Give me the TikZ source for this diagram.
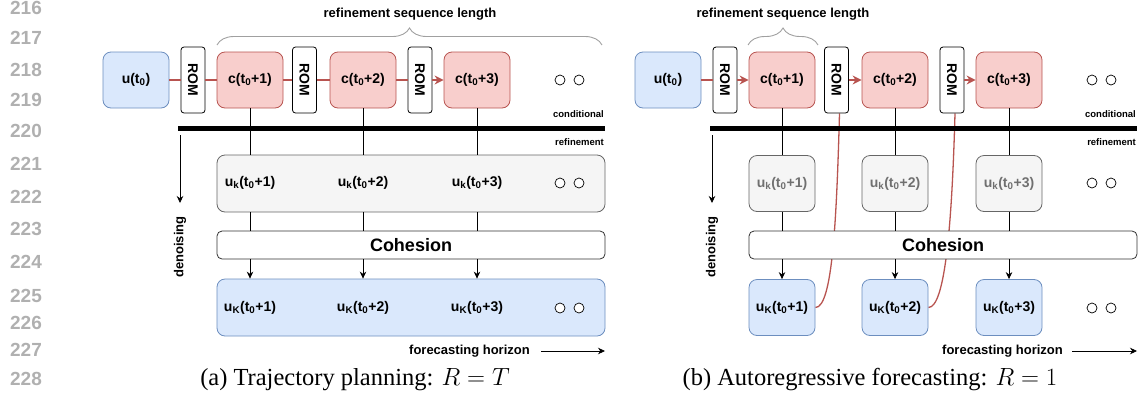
\documentclass[tikz,border=0pt]{standalone}
\usepackage{graphicx}
\usepackage{fontspec}
\setmainfont{Liberation Serif}
\newfontfamily\lsans{Liberation Sans}
\usetikzlibrary{arrows.meta,decorations.pathreplacing}
\definecolor{bF}{HTML}{DAE8FC}\definecolor{bD}{HTML}{6C8EBF}
\definecolor{rF}{HTML}{F8CECC}\definecolor{rD}{HTML}{B85450}
\definecolor{gF}{HTML}{F5F5F5}\definecolor{gD}{HTML}{666666}
\definecolor{gT}{HTML}{707070}
\definecolor{lnum}{HTML}{B0B0B0}
\definecolor{brc}{HTML}{A0A0A0}
\pgfdeclarelayer{bg}
\pgfsetlayers{bg,main}
\newcommand{\lbl}[2]{#1\textsubscript{#2}(t\textsubscript{0}}
\begin{document}
\begin{tikzpicture}[x=1pt,y=-1pt,
  every node/.style={font=\lsans\bfseries\fontsize{14}{16}\selectfont, inner sep=0pt},
  cell/.style={minimum width=66pt, minimum height=56pt, rounded corners=8pt, line width=0.8pt},
  bluecell/.style={cell, fill=bF, draw=bD},
  redcell/.style={cell, fill=rF, draw=rD},
  graycell/.style={cell, fill=gF, draw=gD},
  bigblue/.style={fill=bF, draw=bD, rounded corners=8pt, line width=0.8pt, minimum width=388pt, minimum height=57pt},
  biggray/.style={fill=gF, draw=gD, rounded corners=8pt, line width=0.8pt, minimum width=388pt, minimum height=57pt},
  cohbox/.style={fill=white, draw=black!80, rounded corners=5pt, line width=0.8pt, minimum width=388pt, minimum height=28pt, font=\lsans\bfseries\fontsize{18}{20}\selectfont},
  rombox/.style={draw=black, fill=white, rounded corners=3pt, minimum width=24pt, minimum height=66pt, line width=0.8pt},
  dot/.style={circle, draw=black, fill=white, minimum size=10pt, line width=0.7pt},
  redline/.style={draw=rD, line width=1.3pt},
  redarrow/.style={redline, -{Stealth[length=9pt,width=9pt]}},
  blkarrow/.style={draw=black, line width=0.8pt, -{Stealth[length=7pt,width=6.5pt]}},
  vline/.style={draw=black, line width=0.8pt},
  thick bar/.style={draw=black, line width=5pt},
  smalltxt/.style={font=\lsans\bfseries\fontsize{9.5}{11}\selectfont, anchor=east},
  midtxt/.style={font=\lsans\bfseries\fontsize{13}{15}\selectfont},
  lnumtxt/.style={font=\lsans\bfseries\fontsize{19}{21}\selectfont, text=lnum},
  captxt/.style={font=\rmfamily\fontsize{24.5}{28}\selectfont},
  bracestyle/.style={draw=brc, line width=0.9pt, decorate, decoration={brace, amplitude=17pt}},
  graytxt/.style={text=gT}
]
\useasboundingbox (0,0) rectangle (1139,410);

% line numbers
\foreach \n/\yy in {216/8,217/38,218/70,219/100,220/131,221/164,222/197,223/229,224/262,225/296,226/323,227/350,228/379}
  \node[lnumtxt] (ln\n) at (26,\yy) {\n};

%%%%%%%%%%%%%%%% Panel (a)
\node[midtxt] (aTitle) at (410,14) {refinement sequence length};
\coordinate (aBrL) at (217,45);
\coordinate (aBrR) at (602,45);
\draw[bracestyle] (aBrL) -- (aBrR);

\node[bluecell] (au) at (136,80) {u(t\textsubscript{0})};
\node[rombox] (ar1) at (193,80) {\rotatebox{-90}{ROM}};
\node[redcell] (ac1) at (250,80) {c(t\textsubscript{0}+1)};
\node[rombox] (ar2) at (304.5,80) {\rotatebox{-90}{ROM}};
\node[redcell] (ac2) at (363,80) {c(t\textsubscript{0}+2)};
\node[rombox] (ar3) at (420,80) {\rotatebox{-90}{ROM}};
\node[redcell] (ac3) at (477,80) {c(t\textsubscript{0}+3)};
\node[dot] (ad1) at (560,80) {};
\node[dot] (ad2) at (579,80) {};

\draw[redline] (au) -- (ar1);
\draw[redline] (ar1) -- (ac1);
\draw[redline] (ac1) -- (ar2);
\draw[redline] (ar2) -- (ac2);
\draw[redline] (ac2) -- (ar3);
\draw[redarrow] (ar3) -- (ac3);

\node[smalltxt] (acond) at (604,114) {conditional};
\coordinate (aBarL) at (178,128);
\coordinate (aBarR) at (605,128);
\draw[thick bar] (aBarL) -- (aBarR);
\node[smalltxt] (aref) at (604,142) {refinement};

\coordinate (aDenA) at (180,135);
\coordinate (aDenB) at (180,203);
\draw[blkarrow] (aDenA) -- (aDenB);
\node[midtxt, rotate=90] (aden) at (180,247) {denoising};

\node[biggray] (auk) at (411,183.5) {};
\node (aukl1) at (250,183) {\lbl{u}{k}+1)};
\node (aukl2) at (363,183) {\lbl{u}{k}+2)};
\node (aukl3) at (477,183) {\lbl{u}{k}+3)};
\node[dot] (ad3) at (560,183) {};
\node[dot] (ad4) at (579,183) {};

\node[cohbox] (acoh) at (411,245) {Cohesion};

\node[bigblue] (auK) at (411,307.5) {};
\node (auKl1) at (250,308) {\lbl{u}{K}+1)};
\node (auKl2) at (363,308) {\lbl{u}{K}+2)};
\node (auKl3) at (477,308) {\lbl{u}{K}+3)};
\node[dot] (ad5) at (560,308) {};
\node[dot] (ad6) at (579,308) {};

\foreach \c in {ac1,ac2,ac3}{
  \draw[vline] (\c.south) -- (\c.south |- auk.north);
  \draw[vline] (\c.south |- auk.south) -- (\c.south |- acoh.north);
  \draw[blkarrow] (\c.south |- acoh.south) -- (\c.south |- auK.north);
}

\node[midtxt, anchor=east] (afh) at (530,351) {forecasting horizon};
\coordinate (aFhA) at (541,351);
\coordinate (aFhB) at (605,351);
\draw[blkarrow] (aFhA) -- (aFhB);

\node[captxt] (acap) at (355,380) {(a) Trajectory planning: $R = T$};

%%%%%%%%%%%%%%%% Panel (b)
\node[midtxt] (bTitle) at (783,14) {refinement sequence length};
\coordinate (bBrL) at (748,45);
\coordinate (bBrR) at (818,45);
\draw[bracestyle] (bBrL) -- (bBrR);

\node[bluecell] (bu) at (668,80) {u(t\textsubscript{0})};
\node[rombox] (br1) at (725,80) {\rotatebox{-90}{ROM}};
\node[redcell] (bc1) at (782,80) {c(t\textsubscript{0}+1)};
\node[rombox] (br2) at (836.5,80) {\rotatebox{-90}{ROM}};
\node[redcell] (bc2) at (895,80) {c(t\textsubscript{0}+2)};
\node[rombox] (br3) at (952,80) {\rotatebox{-90}{ROM}};
\node[redcell] (bc3) at (1009,80) {c(t\textsubscript{0}+3)};
\node[dot] (bd1) at (1092,80) {};
\node[dot] (bd2) at (1111,80) {};

\draw[redline] (bu) -- (br1);
\draw[redarrow] (br1) -- (bc1);
\draw[redarrow] (br2) -- (bc2);
\draw[redarrow] (br3) -- (bc3);

\node[smalltxt] (bcond) at (1136,114) {conditional};
\coordinate (bBarL) at (710,128);
\coordinate (bBarR) at (1137,128);
\draw[thick bar] (bBarL) -- (bBarR);
\node[smalltxt] (bref) at (1136,142) {refinement};

\coordinate (bDenA) at (712,135);
\coordinate (bDenB) at (712,203);
\draw[blkarrow] (bDenA) -- (bDenB);
\node[midtxt, rotate=90] (bden) at (712,247) {denoising};

\node[graycell, graytxt] (bk1) at (782,183.5) {\lbl{u}{k}+1)};
\node[graycell, graytxt] (bk2) at (895,183.5) {\lbl{u}{k}+2)};
\node[graycell, graytxt] (bk3) at (1009,183.5) {\lbl{u}{k}+3)};
\node[dot] (bd3) at (1092,183) {};
\node[dot] (bd4) at (1111,183) {};

\node[cohbox] (bcoh) at (943,245) {Cohesion};

\node[bluecell] (bK1) at (782,307.5) {\lbl{u}{K}+1)};
\node[bluecell] (bK2) at (895,307.5) {\lbl{u}{K}+2)};
\node[bluecell] (bK3) at (1009,307.5) {\lbl{u}{K}+3)};
\node[dot] (bd5) at (1092,308) {};
\node[dot] (bd6) at (1111,308) {};

\foreach \i in {1,2,3}{
  \draw[vline] (bc\i.south) -- (bk\i.north);
  \draw[vline] (bk\i.south) -- (bk\i.south |- bcoh.north);
  \draw[blkarrow] (bk\i.south |- bcoh.south) -- (bK\i.north);
}

\begin{pgfonlayer}{bg}
  \draw[redline] (bK1.east) .. controls +(17,0) and +(-3,108) .. ([xshift=3pt]br2.south);
  \draw[redline] (bK2.east) .. controls +(17,0) and +(-3,108) .. ([xshift=3pt]br3.south);
\end{pgfonlayer}

\node[midtxt, anchor=east] (bfh) at (1063,351) {forecasting horizon};
\coordinate (bFhA) at (1072,351);
\coordinate (bFhB) at (1137,351);
\draw[blkarrow] (bFhA) -- (bFhB);

\node[captxt] (bcap) at (870,380) {(b) Autoregressive forecasting: $R = 1$};
\end{tikzpicture}
\end{document}
